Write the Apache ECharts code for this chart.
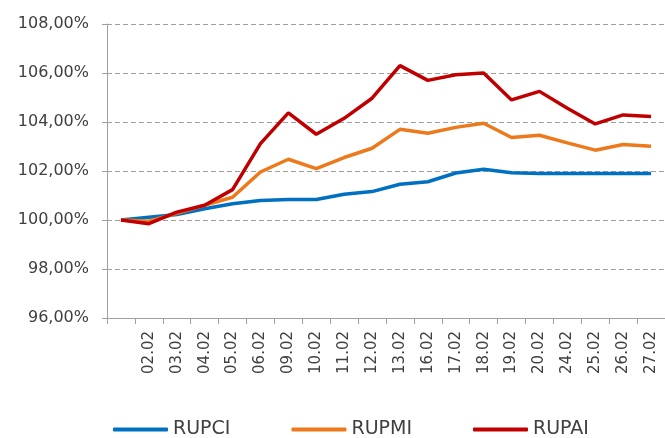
<!DOCTYPE html>
<html>
<head>
<meta charset="utf-8">
<script src="https://cdn.jsdelivr.net/npm/echarts@6/dist/echarts.min.js"></script>
<style>
  html, body { margin: 0; padding: 0; background: #fff; }
  #chart { width: 665px; height: 438px; }
</style>
</head>
<body>
<div id="chart"></div>
<script>
// dates (first point is the base, no label)
const categories = ['', '02.02', '03.02', '04.02', '05.02', '06.02', '09.02', '10.02', '11.02', '12.02',
  '13.02', '16.02', '17.02', '18.02', '19.02', '20.02', '24.02', '25.02', '26.02', '27.02'];

// index values, %
const rupci = [100, 100.11, 100.22, 100.46, 100.66, 100.8, 100.84, 100.84, 101.05, 101.16,
  101.46, 101.56, 101.92, 102.07, 101.93, 101.9, 101.9, 101.9, 101.9, 101.9];
const rupmi = [100, 99.95, 100.27, 100.6, 100.93, 101.96, 102.48, 102.1, 102.55, 102.93,
  103.7, 103.54, 103.78, 103.95, 103.37, 103.46, 103.15, 102.85, 103.08, 103.01];
const rupai = [100, 99.85, 100.32, 100.6, 101.24, 103.12, 104.37, 103.5, 104.15, 104.97,
  106.3, 105.7, 105.93, 106.0, 104.9, 105.25, 104.56, 103.92, 104.29, 104.22];

const font = 'DejaVu Sans';
const gray = '#a0a0a0';

let chart = echarts.init(document.getElementById('chart'));

function line(name, data, color) {
  return {
    name: name,
    type: 'line',
    data: data,
    symbol: 'none',
    lineStyle: { width: 3.5, color: color },
    itemStyle: { color: color }
  };
}

chart.setOption({
  animation: false,
  textStyle: { fontFamily: font },
  grid: { left: 107, top: 24, width: 563, height: 294 },
  legend: {
    left: 113,
    top: 420,
    padding: 0,
    icon: 'roundRect',
    itemWidth: 55,
    itemHeight: 4,
    itemGap: 61,
    textStyle: { fontFamily: font, fontSize: 19, color: '#404040' },
    data: ['RUPCI', 'RUPMI', 'RUPAI']
  },
  xAxis: {
    type: 'category',
    data: categories,
    boundaryGap: true,
    axisLine: { lineStyle: { color: gray, width: 1 } },
    axisTick: { show: true, length: 6, lineStyle: { color: gray } },
    axisLabel: {
      interval: 0,
      rotate: 90,
      margin: 13,
      fontFamily: font,
      fontSize: 15,
      color: '#404040'
    },
    splitLine: { show: false }
  },
  yAxis: {
    type: 'value',
    min: 96,
    max: 108,
    interval: 2,
    axisLine: { show: true, lineStyle: { color: gray, width: 1 } },
    axisTick: { show: true, length: 5, lineStyle: { color: gray } },
    axisLabel: {
      margin: 18,
      fontFamily: font,
      fontSize: 16,
      color: '#404040',
      formatter: v => v.toFixed(2).replace('.', ',') + '%'
    },
    splitLine: { lineStyle: { color: gray, type: [5, 3], width: 1 } }
  },
  series: [
    line('RUPCI', rupci, '#0070c0'),
    line('RUPMI', rupmi, '#ec7a1c'),
    line('RUPAI', rupai, '#c00000')
  ]
});
</script>
</body>
</html>
